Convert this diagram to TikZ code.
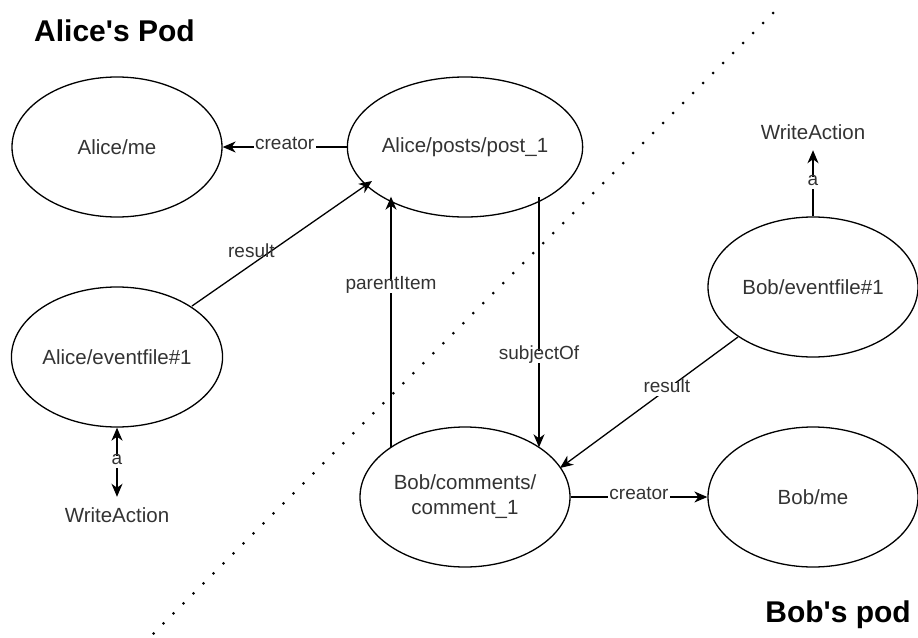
\documentclass[tikz,border=0pt]{standalone}
\usepackage{fontspec}
\setmainfont{Liberation Sans}
% separate family without TeX ligatures so the apostrophe stays straight
\newfontfamily\podfont{Liberation Sans}
\usetikzlibrary{shapes.geometric,arrows.meta}
\definecolor{inkgray}{HTML}{333333}

\begin{document}
\begin{tikzpicture}[x=1pt,y=-1pt,
  resource/.style={draw=black, line width=1.3pt, ellipse,
    minimum width=210pt, minimum height=140pt, inner sep=0pt,
    align=center, font=\fontsize{20.5}{25}\selectfont, text=inkgray},
  plain/.style={inner xsep=0pt, inner ysep=10.5pt,
    font=\fontsize{20.5}{25}\selectfont, text=inkgray},
  tip/.tip={Stealth[length=13pt,width=11pt,inset=4pt]},
  link/.style={draw=black, line width=1.3pt, -tip},
  elabel/.style={fill=white, inner xsep=1.5pt, inner ysep=1.5pt,
    text height=0.72em, text depth=0.2em,
    font=\fontsize{19}{23}\selectfont, text=inkgray},
  podtitle/.style={font=\podfont\fontsize{30}{36}\selectfont\bfseries,
    inner sep=0pt},
  boundary/.style={line width=3pt, line cap=round,
    dash pattern=on 0pt off 14.14pt}
]
\useasboundingbox (0,0) rectangle (918,637);

% pod boundary
\coordinate (sepTop) at (773,13);
\coordinate (sepBottom) at (152,635);
\draw[boundary] (sepTop) -- (sepBottom);

% pod titles
\node[podtitle, anchor=base west] (alicepod) at (34,41) {Alice's Pod};
\node[podtitle, anchor=base east] (bobpod) at (911,622) {Bob's pod};

% resources
\node[resource] (aliceme)  at (117,147) {Alice/me};
\node[resource] (post)     at (465,147) {Alice/posts/post\_1};
\node[resource] (aliceev)  at (117,357) {Alice/eventfile\#1};
\node[resource] (bobev)    at (813,287) {Bob/eventfile\#1};
\node[resource] (comment)  at (465,497) {Bob/comments/\\comment\_1};
\node[resource] (bobme)    at (813,497) {Bob/me};

% type targets
\node[plain] (watop)    at (813,132) {WriteAction};
\node[plain] (wabottom) at (117,515) {WriteAction};

% border points of the two vertical links (74pt off the centre line)
\path (post.center)    ++(-74, 49.7) coordinate (postParent)
      (post.center)    ++( 74, 49.7) coordinate (postSubject)
      (comment.center) ++(-74,-49.7) coordinate (commentParent)
      (comment.center) ++( 74,-49.7) coordinate (commentSubject);
% border points of the two slanted result links
\path (aliceev.center) ++( 75,-51) coordinate (aliceevOut)
      (post.center)    ++(-93, 34) coordinate (postResult)
      (bobev.center)   ++(-75, 50) coordinate (bobevOut)
      (comment.center) ++( 95,-29) coordinate (commentResult);

% relations
\draw[link] (post.west) -- node[elabel] {creator} (aliceme.east);
\draw[link] (aliceevOut) -- node[elabel, fill=none, pos=0.33, yshift=10pt] {result} (postResult);
\draw[link] (commentParent) -- node[elabel, pos=0.64] {parentItem} (postParent);
\draw[link] (postSubject) -- node[elabel, pos=0.64] {subjectOf} (commentSubject);
\draw[link] (bobevOut) -- node[elabel, pos=0.4] {result} (commentResult);
\draw[link] (comment.east) -- node[elabel] {creator} (bobme.west);
\draw[link] (bobev.north) -- node[elabel] {a} (watop.south);
\draw[link, tip-tip] (aliceev.south) -- node[elabel] {a} (wabottom.north);
\end{tikzpicture}
\end{document}
